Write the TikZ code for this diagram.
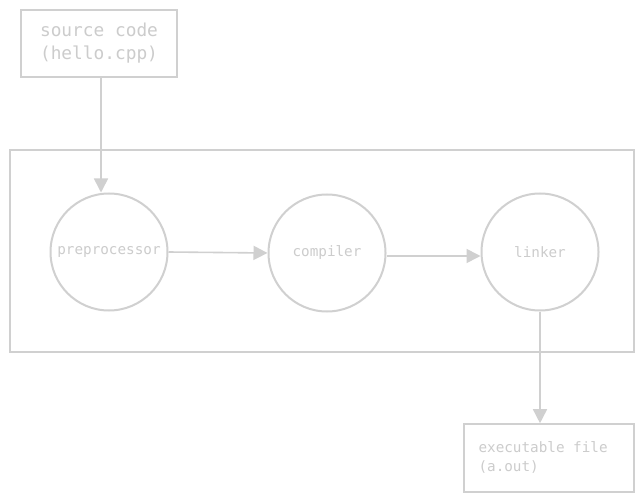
\documentclass[tikz,border=0pt]{standalone}
\usepackage{fontspec}
\setmonofont{DejaVu Sans Mono}
\usetikzlibrary{arrows.meta}
\definecolor{ln}{HTML}{D0D0D0}
\definecolor{tx}{HTML}{CCCCCC}
\begin{document}
\begin{tikzpicture}[x=1pt,y=-1pt,
  boxst/.style={draw=ln,line width=1.6pt,rectangle,inner sep=0pt},
  circst/.style={draw=ln,line width=2pt,circle,minimum size=117pt,inner sep=0pt,
    font=\ttfamily\fontsize{14.3}{17}\selectfont,text=tx},
  arr/.style={draw=ln,line width=1.6pt,-{Triangle[length=14pt,width=14pt]}}]
\useasboundingbox (0,0) rectangle (644,502);
\fill[white] (0,0) rectangle (644,502);
\node[boxst,minimum width=156pt,minimum height=67pt,font=\ttfamily\fontsize{17.8}{23}\selectfont,text=tx,align=center] (src) at (99,43.5) {source code\\(hello.cpp)};
\node[boxst,minimum width=624pt,minimum height=202pt] (cont) at (322,251) {};
\node[circst] (pre) at (109,252) {preprocessor};
\node[circst] (comp) at (327,253) {compiler};
\node[circst] (link) at (540,252) {linker};
\node[boxst,minimum width=170pt,minimum height=68pt] (exe) at (549,458) {};
\node[anchor=west,font=\ttfamily\fontsize{14.3}{19}\selectfont,text=tx,align=left] (exet) at (475,457.5) {executable file\\(a.out)};
\draw[arr] ([xshift=2pt]src.south) -- ([xshift=-8pt]pre.north);
\draw[arr] (pre.east) -- (comp.west);
\draw[arr] ([yshift=-3pt]comp.east) -- ([yshift=-4pt]link.west);
\draw[arr] (link.south) -- (link.south |- exe.north);
\end{tikzpicture}
\end{document}
